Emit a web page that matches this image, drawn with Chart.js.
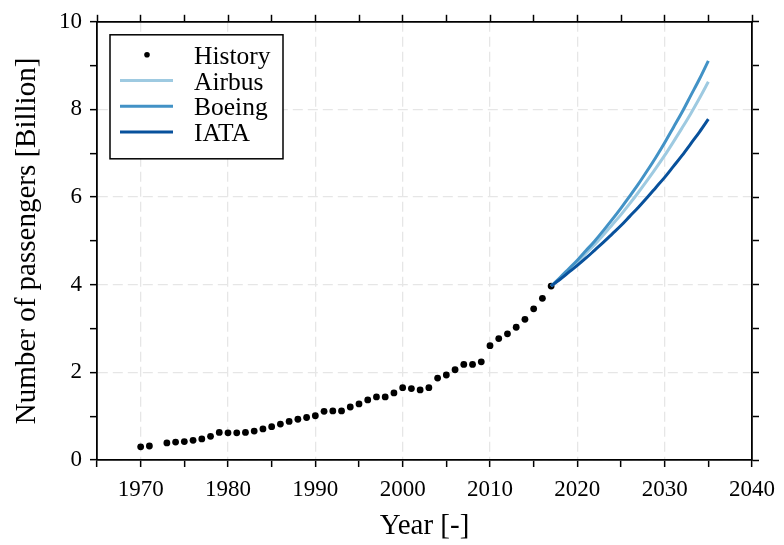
<!DOCTYPE html>
<html>
<head>
<meta charset="utf-8">
<script src="https://cdn.jsdelivr.net/npm/chart.js@4/dist/chart.umd.min.js"></script>
<style>
  html, body { margin: 0; padding: 0; background: #fff; }
  canvas { display: block; }
</style>
</head>
<body>
<canvas id="c" width="784" height="545"></canvas>
<script>
// ---- data ----
const historyYears = [1970,1971,1973,1974,1975,1976,1977,1978,1979,1980,1981,1982,1983,1984,1985,1986,1987,1988,1989,1990,
  1991,1992,1993,1994,1995,1996,1997,1998,1999,2000,2001,2002,2003,2004,2005,2006,2007,2008,2009,2010,2011,2012,2013,2014,2015,2016,2017];
const historyValues = [0.30,0.32,0.39,0.41,0.42,0.45,0.48,0.54,0.63,0.62,0.62,0.63,0.66,0.71,0.76,0.82,0.88,0.93,0.97,1.01,
  1.11,1.12,1.12,1.21,1.28,1.37,1.44,1.44,1.53,1.65,1.63,1.60,1.65,1.87,1.94,2.06,2.18,2.18,2.24,2.61,2.77,2.88,3.03,3.21,3.45,3.69,3.97];

const forecastYears = [2017,2018,2019,2020,2021,2022,2023,2024,2025,2026,2027,2028,2029,2030,2031,2032,2033,2034,2035];
const airbusValues = [3.97,4.14,4.33,4.52,4.72,4.92,5.14,5.37,5.60,5.85,6.11,6.38,6.66,6.95,7.26,7.58,7.91,8.26,8.63];
const boeingValues = [3.97,4.16,4.36,4.56,4.78,5.00,5.24,5.49,5.75,6.02,6.30,6.60,6.91,7.24,7.59,7.94,8.32,8.70,9.11];
const iataValues   = [3.97,4.12,4.28,4.44,4.61,4.79,4.97,5.16,5.35,5.56,5.77,5.99,6.22,6.45,6.70,6.95,7.22,7.49,7.78];

const seriesNames = ['History', 'Airbus', 'Boeing', 'IATA'];
const xTickLabels = [1970,1980,1990,2000,2010,2020,2030,2040];
const yTickLabels = [0,2,4,6,8,10];

const xTitle = 'Year [-]';
const yTitle = 'Number of passengers [Billion]';

// ---- helpers ----
const toPts = (xs, ys) => xs.map((x, i) => ({ x: x, y: ys[i] }));
const SERIF = '"Liberation Serif", "Times New Roman", serif';

const gridCol = (labels) => (c) => (c.tick && labels.includes(c.tick.value)) ? '#e6e6e6' : 'rgba(0,0,0,0)';

const boxLegend = {
  id: 'boxLegend',
  afterDraw(chart) {
    const ctx = chart.ctx;
    const a = chart.chartArea;
    const bx = a.left + 13, by = a.top + 13, bw = 173, bh = 124;
    ctx.save();
    ctx.fillStyle = '#fff';
    ctx.fillRect(bx, by, bw, bh);
    ctx.strokeStyle = '#000';
    ctx.lineWidth = 1.5;
    ctx.strokeRect(bx, by, bw, bh);
    ctx.font = '25.5px ' + SERIF;
    ctx.textBaseline = 'alphabetic';
    ctx.textAlign = 'left';
    chart.data.datasets.forEach((ds, i) => {
      const base = by + 29 + i * 25.7;
      const sy = base - 9;
      if (ds.showLine === false) {
        ctx.beginPath();
        ctx.fillStyle = '#000';
        ctx.arc(bx + 37, sy, 2.8, 0, Math.PI * 2);
        ctx.fill();
      } else {
        ctx.beginPath();
        ctx.strokeStyle = ds.borderColor;
        ctx.lineWidth = 3;
        ctx.moveTo(bx + 10, sy);
        ctx.lineTo(bx + 63, sy);
        ctx.stroke();
      }
      ctx.fillStyle = '#000';
      ctx.fillText(ds.label, bx + 84, base);
    });
    ctx.restore();
  }
};

const lineDs = (label, xs, ys, color, order) => ({
  label: label,
  data: toPts(xs, ys),
  showLine: true,
  borderColor: color,
  backgroundColor: color,
  borderWidth: 3,
  pointRadius: 0,
  cubicInterpolationMode: 'monotone',
  order: order
});

new Chart(document.getElementById('c'), {
  type: 'scatter',
  data: {
    datasets: [
      {
        label: seriesNames[0],
        data: toPts(historyYears, historyValues),
        showLine: false,
        pointRadius: 3.4,
        pointBorderWidth: 0,
        backgroundColor: '#000',
        borderColor: '#000',
        order: 4
      },
      lineDs(seriesNames[1], forecastYears, airbusValues, '#9ecae1', 3),
      lineDs(seriesNames[2], forecastYears, boeingValues, '#4292c6', 2),
      lineDs(seriesNames[3], forecastYears, iataValues, '#08519c', 1)
    ]
  },
  options: {
    responsive: false,
    animation: false,
    layout: { padding: 0 },
    plugins: { legend: { display: false }, tooltip: { enabled: false } },
    scales: {
      x: {
        type: 'linear', position: 'bottom', min: 1965, max: 2040,
        afterFit: (s) => { s.height = 85; },
        ticks: {
          stepSize: 5, autoSkip: false, maxRotation: 0, padding: 9,
          color: '#000', font: { family: SERIF, size: 23 },
          callback: (v) => xTickLabels.includes(v) ? String(v) : ''
        },
        grid: { color: gridCol(xTickLabels), lineWidth: 1.3, tickColor: '#000', tickWidth: 1.5, tickLength: 7 },
        border: { color: '#000', width: 1.8, dash: [10, 5] },
        title: { display: true, text: xTitle, color: '#000', font: { family: SERIF, size: 29 }, padding: { top: 0, bottom: 1 } }
      },
      x2: {
        type: 'linear', position: 'top', min: 1965, max: 2040, display: true,
        afterFit: (s) => { s.height = 19; },
        ticks: { stepSize: 5, autoSkip: false, display: false },
        grid: { drawOnChartArea: false, color: '#000', tickColor: '#000', tickWidth: 1.5, tickLength: 7 },
        border: { color: '#000', width: 1.8 }
      },
      y: {
        type: 'linear', position: 'left', min: 0, max: 10,
        afterFit: (s) => { s.width = 97; },
        ticks: {
          stepSize: 1, autoSkip: false, padding: 8,
          color: '#000', font: { family: SERIF, size: 23 },
          callback: (v) => yTickLabels.includes(v) ? String(v) : ''
        },
        grid: { color: gridCol(yTickLabels), lineWidth: 1.3, tickColor: '#000', tickWidth: 1.5, tickLength: 7 },
        border: { color: '#000', width: 1.8, dash: [10, 5] },
        title: { display: true, text: yTitle, color: '#000', font: { family: SERIF, size: 29 }, padding: { top: 10, bottom: 0 } }
      },
      y2: {
        type: 'linear', position: 'right', min: 0, max: 10, display: true,
        afterFit: (s) => { s.width = 27; },
        ticks: { stepSize: 1, autoSkip: false, display: false },
        grid: { drawOnChartArea: false, color: '#000', tickColor: '#000', tickWidth: 1.5, tickLength: 7 },
        border: { color: '#000', width: 1.8 }
      }
    }
  },
  plugins: [boxLegend]
});
</script>
</body>
</html>
